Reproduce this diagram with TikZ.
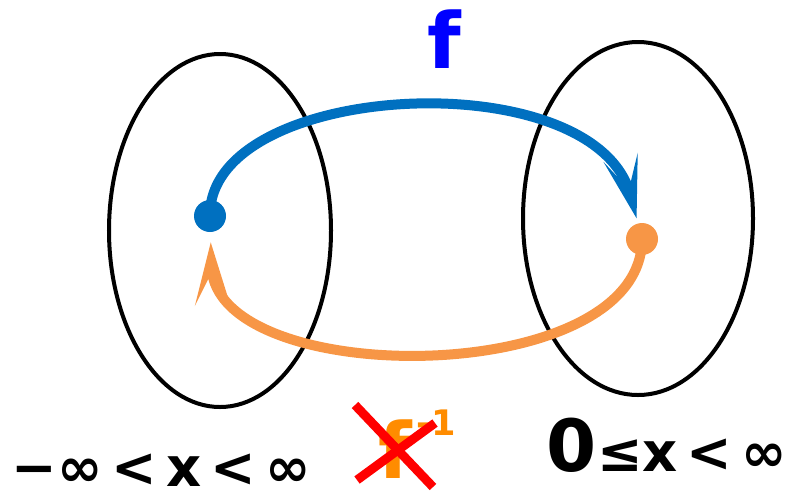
\documentclass[tikz,border=0pt]{standalone}
\usepackage{fontspec}
\setmainfont{DejaVu Sans}
\usetikzlibrary{positioning, arrows.meta, shapes.geometric}
\definecolor{mapblue}{RGB}{0,112,192}
\definecolor{maporange}{RGB}{247,150,70}
\definecolor{labelorange}{RGB}{255,140,0}

\begin{document}
\begin{tikzpicture}[
        x=0.2mm, y=-0.2mm,
        setoval/.style={draw, ellipse, line width=0.8mm, minimum width=44.4mm, minimum height=70.6mm, inner sep=0pt},
        pointdot/.style={circle, minimum size=6.4mm, inner sep=0pt},
        maparrow/.style={line width=2mm, -{Stealth[length=12.5mm, width=7mm, inset=6.5mm]}},
        bigtext/.style={font=\bfseries\fontsize{31}{36}\selectfont, inner sep=0pt, anchor=base}
    ]
    \useasboundingbox (0,0) rectangle (789,498);
    % Sets
    \node[setoval] (left) at (220,230.5) {};
    \node[setoval, minimum width=46mm] (right) at (638,218.5) {};
    % Points
    \node[pointdot, fill=mapblue] (bdot) at (210,216) {};
    \node[pointdot, fill=maporange] (odot) at (642,239) {};
    % Maps
    \draw[maparrow, mapblue, shorten >=1mm] (bdot.center) .. controls (208,80) and (595,60) .. (odot);
    \draw[maparrow, maporange, shorten >=2mm] (odot.center) .. controls (642,390) and (215,390) .. (bdot);
    % Labels
    \node[bigtext, text=blue, font=\bfseries\fontsize{44}{50}\selectfont] (flabel) at (444,68) {f};
    \node[bigtext] (lrange) at (161,486) {−∞\,<\,x\,<\,∞};
    \node[bigtext] (rrange) at (667,471) {{\fontsize{41}{44}\selectfont 0}≤x\,<\,∞};
    \node[bigtext, text=labelorange, font=\bfseries\fontsize{44}{50}\selectfont] (finv) at (395,478) {f};
    \node[bigtext, text=labelorange, font=\bfseries\fontsize{20}{24}\selectfont, anchor=base east] (finvexp) at (456,435) {-1};
    \draw[red, line width=1.8mm] (355,405) -- (433,487);
    \draw[red, line width=1.8mm] (357,480) -- (435,423);
\end{tikzpicture}
\end{document}
